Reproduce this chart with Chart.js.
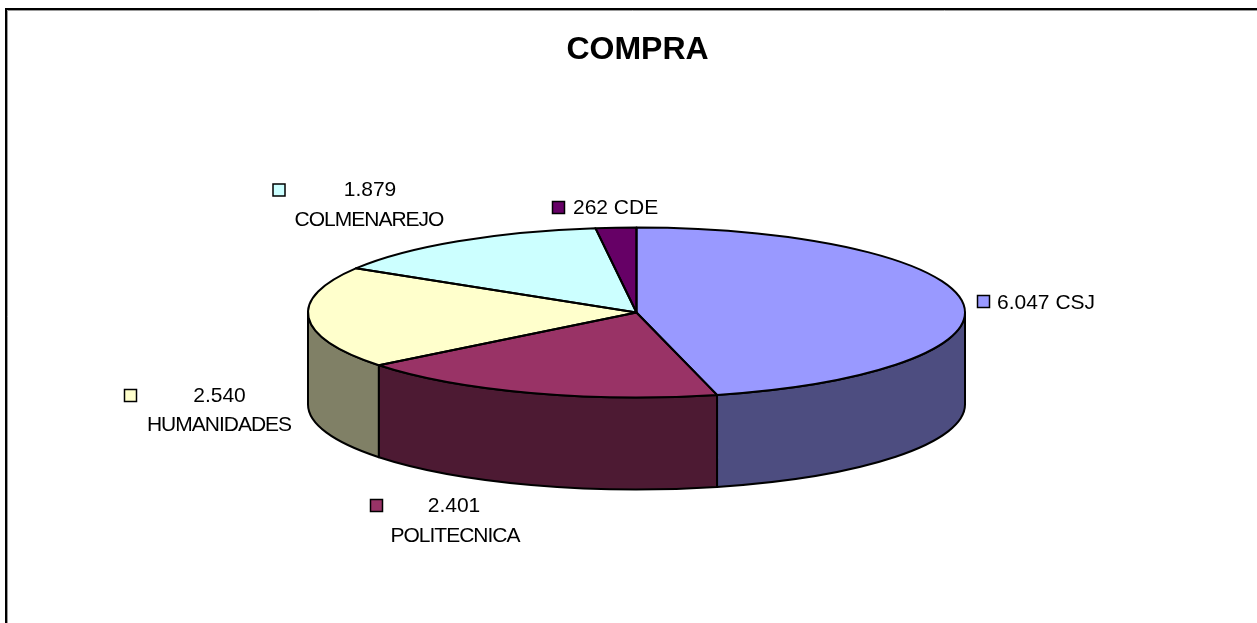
<!DOCTYPE html>
<html><head><meta charset="utf-8">
<style>html,body{margin:0;padding:0;background:#fff;overflow:hidden}canvas{display:block}
#wrap{width:1257px;height:623px;position:relative}</style>
<script src="https://cdn.jsdelivr.net/npm/chart.js@4"></script></head>
<body><div id="wrap"><canvas id="c" width="1257" height="623"></canvas></div>
<script>
const categories = ["CSJ","POLITECNICA","HUMANIDADES","COLMENAREJO","CDE"];
const values = [6047,2401,2540,1879,262];
const valueLabels = ["6.047","2.401","2.540","1.879","262"];
const topColors = ["#9999FF","#993366","#FFFFCC","#CCFFFF","#660066"];
const wallColors = ["#4D4D80","#4D1A33","#808066","#668080","#330033"];
const titleText = "COMPRA";

const CX=636.5, CY=312.5, RX=328.5, RY=85, DEPTH=92;
const FONT='"Liberation Sans", Arial, sans-serif';

const labelLayout = [
  {key:[983.5,301.5], one:[997,303]},
  {key:[376.5,505.5], val:[454,506], name:[455,536]},
  {key:[130.5,395.5], val:[219.5,396.5], name:[219,425.5]},
  {key:[279,190], val:[370,190.5], name:[369,220.5]},
  {key:[558.5,207.5], one:[573,208]}
];

const TWO=Math.PI*2;
const midAngle=a=>{const m=(a.startAngle+a.endAngle)/2; return ((m%TWO)+TWO)%TWO;};

const tilt = {
  id:'tilt',
  beforeDatasetsDraw(chart){
    const ctx=chart.ctx, arcs=chart.getDatasetMeta(0).data;
    ctx.save();
    ctx.lineWidth=2; ctx.strokeStyle='#000'; ctx.lineJoin='round';
    // outer wall, front half only (canvas angles 0..PI), back to front
    const order=arcs.map((a,i)=>i).sort((p,q)=>Math.abs(midAngle(arcs[q])-Math.PI/2)-Math.abs(midAngle(arcs[p])-Math.PI/2));
    order.forEach(i=>{
      const a=arcs[i];
      [0,TWO].forEach(off=>{
        const st=Math.max(a.startAngle+off,0), e=Math.min(a.endAngle+off,Math.PI);
        if(e<=st) return;
        ctx.beginPath();
        ctx.ellipse(CX,CY,RX,RY,0,st,e,false);
        ctx.ellipse(CX,CY+DEPTH,RX,RY,0,e,st,true);
        ctx.closePath();
        ctx.fillStyle=wallColors[i];
        ctx.fill(); ctx.stroke();
      });
    });
    ctx.restore();
    // map the library's circular pie to a flattened ellipse
    const a0=arcs[0], r=a0.outerRadius;
    ctx.save();
    ctx.translate(CX,CY); ctx.scale(RX/r,RY/r); ctx.translate(-a0.x,-a0.y);
  },
  afterDatasetsDraw(chart){
    const ctx=chart.ctx, arcs=chart.getDatasetMeta(0).data;
    const m=ctx.getTransform();
    ctx.restore();
    // crisp outlines: path is built under the tilt, stroked without it
    ctx.save();
    arcs.forEach(a=>{
      ctx.save(); ctx.setTransform(m);
      ctx.beginPath();
      ctx.moveTo(a.x,a.y);
      ctx.arc(a.x,a.y,a.outerRadius,a.startAngle,a.endAngle);
      ctx.closePath();
      ctx.restore();
      ctx.lineWidth=2; ctx.strokeStyle='#000'; ctx.lineJoin='round'; ctx.stroke();
    });
    ctx.restore();
    // data labels
    ctx.save();
    ctx.font='21px '+FONT; ctx.textBaseline='middle';
    labelLayout.forEach((l,i)=>{
      ctx.fillStyle=topColors[i];
      ctx.fillRect(l.key[0]-6,l.key[1]-6,12,12);
      ctx.strokeStyle='#000'; ctx.lineWidth=1.5;
      ctx.strokeRect(l.key[0]-6,l.key[1]-6,12,12);
      ctx.fillStyle='#000';
      if(l.one){ ctx.textAlign='left'; ctx.letterSpacing='0px';
        ctx.fillText(valueLabels[i]+' '+categories[i],l.one[0],l.one[1]); }
      else { ctx.textAlign='center'; ctx.letterSpacing='0px';
        ctx.fillText(valueLabels[i],l.val[0],l.val[1]);
        ctx.letterSpacing='-1px';
        ctx.fillText(categories[i],l.name[0],l.name[1]);
        ctx.letterSpacing='0px'; }
    });
    ctx.restore();
  }
};

const frame = {
  id:'frame',
  beforeDraw(chart){
    const ctx=chart.ctx;
    ctx.save();
    ctx.fillStyle='#fff'; ctx.fillRect(0,0,1257,623);
    ctx.strokeStyle='#999'; ctx.lineWidth=1;
    ctx.beginPath(); ctx.moveTo(7.5,623); ctx.lineTo(7.5,10.5); ctx.lineTo(1257,10.5); ctx.stroke();
    ctx.strokeStyle='#000'; ctx.lineWidth=2;
    ctx.beginPath(); ctx.moveTo(6,623); ctx.lineTo(6,9); ctx.lineTo(1257,9); ctx.stroke();
    ctx.restore();
  }
};

new Chart(document.getElementById('c'),{
  type:'pie',
  data:{labels:categories,datasets:[{data:values,backgroundColor:topColors,borderWidth:0}]},
  options:{
    responsive:false,animation:false,
    events:[],
    layout:{padding:{left:18}},
    plugins:{
      legend:{display:false},tooltip:{enabled:false},
      title:{display:true,text:titleText,color:'#000',
        font:{family:FONT,size:32,weight:'bold'},padding:{top:31,bottom:10}}
    }
  },
  plugins:[frame,tilt]
});
</script></body></html>
